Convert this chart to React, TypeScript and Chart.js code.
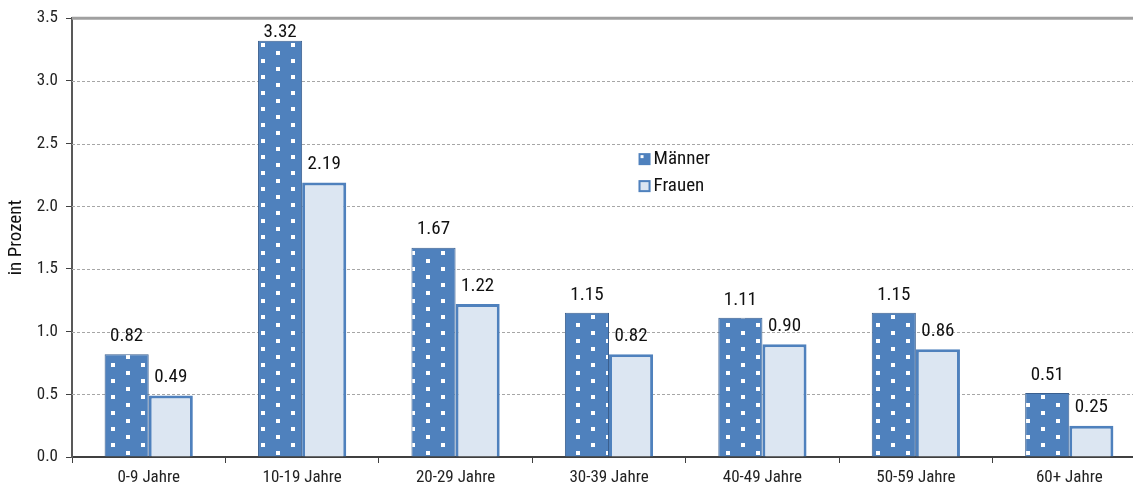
import React, { useEffect, useRef } from "react";
import { Chart, registerables } from "chart.js";

Chart.register(...registerables);

const categories = ["0-9 Jahre", "10-19 Jahre", "20-29 Jahre", "30-39 Jahre", "40-49 Jahre", "50-59 Jahre", "60+ Jahre"];
const seriesNames = ["Männer", "Frauen"];
const maennerValues = [0.82, 3.32, 1.67, 1.15, 1.11, 1.15, 0.51];
const frauenValues = [0.49, 2.19, 1.22, 0.82, 0.9, 0.86, 0.25];
const yTickValues = [0, 0.5, 1, 1.5, 2, 2.5, 3, 3.5];
const yAxisTitle = "in Prozent";

const FONT = '"Liberation Sans Narrow", "Arial Narrow", "Roboto Condensed", "Liberation Sans", Arial, sans-serif';
const BLUE = "#4f81bd";
const LIGHT = "#dce6f2";

function makePattern(ctx: CanvasRenderingContext2D) {
  const c = document.createElement("canvas");
  c.width = 30;
  c.height = 16;
  const p = c.getContext("2d")!;
  p.fillStyle = BLUE;
  p.fillRect(0, 0, 30, 16);
  p.fillStyle = "#ffffff";
  p.fillRect(6, 3, 4, 4);
  p.fillRect(21, 11, 4, 4);
  return ctx.createPattern(c, "repeat")!;
}

export default function App() {
  const ref = useRef<HTMLCanvasElement>(null);
  useEffect(() => {
    const canvas = ref.current!;
    const ctx = canvas.getContext("2d")!;
    const pattern = makePattern(ctx);

    const customPlugin = {
      id: "custom",
      beforeDatasetsDraw(chart: any) {
        const { ctx, chartArea } = chart;
        const y = chart.scales.y;
        ctx.save();
        ctx.strokeStyle = "#a6a6a6";
        ctx.lineWidth = 1;
        ctx.setLineDash([3, 2]);
        yTickValues.forEach((v, i) => {
          if (i === 0 || i === yTickValues.length - 1) return;
          const py = Math.round(y.getPixelForValue(v)) + 0.5;
          ctx.beginPath();
          ctx.moveTo(chartArea.left, py);
          ctx.lineTo(chartArea.right, py);
          ctx.stroke();
        });
        ctx.setLineDash([]);
        ctx.strokeStyle = "#a0a0a0";
        ctx.lineWidth = 3;
        const top = y.getPixelForValue(yTickValues[yTickValues.length - 1]);
        ctx.beginPath();
        ctx.moveTo(chartArea.left, top);
        ctx.lineTo(chartArea.right, top);
        ctx.stroke();
        ctx.restore();
      },
      afterDatasetsDraw(chart: any) {
        const { ctx, chartArea } = chart;
        ctx.save();
        ctx.font = `19px ${FONT}`;
        ctx.fillStyle = "#111111";
        ctx.textAlign = "center";
        ctx.textBaseline = "middle";
        chart.data.datasets.forEach((ds: any, di: number) => {
          const meta = chart.getDatasetMeta(di);
          meta.data.forEach((bar: any, i: number) => {
            const v = ds.data[i] as number;
            const ly = Math.max(bar.y - 18, chartArea.top + 14);
            ctx.fillText(v.toFixed(2), bar.x, ly);
          });
        });
        ctx.restore();
      },
      afterDraw(chart: any) {
        const { ctx, chartArea } = chart;
        const w = chartArea.right - chartArea.left;
        const h = chartArea.bottom - chartArea.top;
        const lx = chartArea.left + w * 0.5275;
        const ly = chartArea.top + h * 0.3075;
        ctx.save();
        ctx.font = `19px ${FONT}`;
        ctx.textBaseline = "middle";
        ctx.textAlign = "left";
        ctx.fillStyle = BLUE;
        ctx.fillRect(lx, ly, 12, 12);
        ctx.fillStyle = "#ffffff";
        ctx.fillRect(lx + 2, ly + 2, 3, 3);
        ctx.fillStyle = "#111111";
        ctx.fillText(seriesNames[0], lx + 15, ly + 6);
        const ly2 = ly + 27;
        ctx.fillStyle = LIGHT;
        ctx.fillRect(lx, ly2, 12, 12);
        ctx.strokeStyle = BLUE;
        ctx.lineWidth = 2;
        ctx.strokeRect(lx + 1, ly2 + 1, 10, 10);
        ctx.fillStyle = "#111111";
        ctx.fillText(seriesNames[1], lx + 15, ly2 + 6);
        ctx.restore();
      },
    };

    const chart = new Chart(canvas, {
      type: "bar",
      data: {
        labels: categories,
        datasets: [
          {
            label: seriesNames[0],
            data: maennerValues,
            backgroundColor: pattern,
            borderColor: "#3a5f8f",
            borderWidth: 1,
            categoryPercentage: 0.575,
            barPercentage: 1,
          },
          {
            label: seriesNames[1],
            data: frauenValues,
            backgroundColor: LIGHT,
            borderColor: BLUE,
            borderWidth: 3,
            categoryPercentage: 0.575,
            barPercentage: 1,
          },
        ],
      },
      options: {
        animation: false,
        responsive: false,
        maintainAspectRatio: false,
        layout: { padding: { top: 18, left: 0, right: 0, bottom: 0 } },
        plugins: {
          legend: { display: false },
          tooltip: { enabled: false },
          title: { display: false },
        },
        scales: {
          x: {
            offset: true,
            grid: {
              offset: true,
              drawOnChartArea: false,
              drawTicks: true,
              tickLength: 6,
              color: "#404040",
              lineWidth: 1,
            },
            border: { display: true, color: "#404040", width: 2 },
            ticks: {
              color: "#222222",
              font: { family: FONT, size: 17 },
              padding: 5,
              maxRotation: 0,
              autoSkip: false,
            },
            afterFit(scale: any) {
              scale.height = 30;
            },
          },
          y: {
            min: 0,
            max: 3.5,
            afterBuildTicks(scale: any) {
              scale.ticks = yTickValues.map((v) => ({ value: v }));
            },
            grid: {
              drawOnChartArea: false,
              drawTicks: true,
              tickLength: 6,
              color: "#404040",
            },
            border: { display: true, color: "#595959", width: 2 },
            ticks: {
              color: "#222222",
              font: { family: FONT, size: 17 },
              padding: 8,
              callback: (v: any) => Number(v).toFixed(1),
            },
            title: {
              display: true,
              text: yAxisTitle,
              color: "#111111",
              font: { family: FONT, size: 19, weight: "normal" },
              padding: { top: 5, bottom: 0 },
            },
            afterFit(scale: any) {
              scale.width = 72;
            },
          },
        },
      },
      plugins: [customPlugin],
    });
    return () => chart.destroy();
  }, []);

  return (
    <div style={{ position: "fixed", left: 0, top: 0, width: 1133, height: 487, overflow: "hidden", background: "#fff" }}>
      <canvas ref={ref} width={1146} height={487} style={{ display: "block", width: 1146, height: 487 }} />
    </div>
  );
}
